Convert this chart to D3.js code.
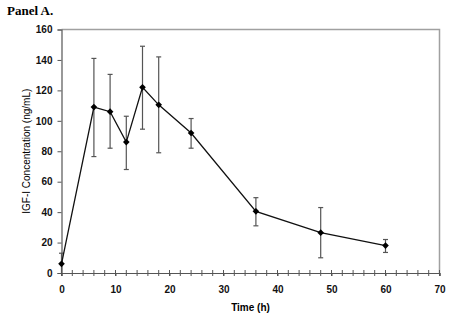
<!DOCTYPE html>
<html>
<head>
<meta charset="utf-8">
<script src="https://cdn.jsdelivr.net/npm/d3@7"></script>
<style>
  html, body { margin: 0; padding: 0; background: #fff; }
  svg { display: block; }
</style>
</head>
<body>
<svg id="chart" width="450" height="324"></svg>
<script>
// IGF-I concentration over time, mean with error bars
const timeHours = [0, 6, 9, 12, 15, 18, 24, 36, 48, 60];
const igfMean   = [6, 109, 106, 86, 122, 110.5, 92, 40.5, 26.5, 18];
const igfUpper  = [13, 141, 130.5, 103, 149, 142, 101.5, 49.5, 43, 22];
const igfLower  = [0, 76.5, 82, 68, 94.5, 79, 82, 31, 10, 13.5];
const xTicks = [0, 10, 20, 30, 40, 50, 60, 70];
const yTicks = [0, 20, 40, 60, 80, 100, 120, 140, 160];

const svg = d3.select("#chart");
const plot = { left: 61.5, right: 439.5, top: 29.5, bottom: 273 };

const x = d3.scaleLinear().domain([0, 70]).range([plot.left, plot.right]);
const y = d3.scaleLinear().domain([0, 160]).range([plot.bottom, plot.top]);

// panel heading
svg.append("text")
  .attr("x", 7).attr("y", 15)
  .attr("font-family", "'Liberation Serif', 'Times New Roman', serif")
  .attr("font-weight", "bold").attr("font-size", 13)
  .text("Panel A.");

// frame: top and right edges in grey
svg.append("path")
  .attr("d", `M${plot.left},${plot.top}H${plot.right}V${plot.bottom}`)
  .attr("fill", "none").attr("stroke", "#a0a0a0").attr("stroke-width", 1.5);

// y axis
const yAxis = svg.append("g")
  .attr("transform", `translate(${plot.left},0)`)
  .call(d3.axisLeft(y).tickValues(yTicks).tickSize(4).tickPadding(5));
yAxis.select(".domain").attr("stroke", "#555").attr("stroke-width", 1.2);
yAxis.selectAll(".tick line").attr("stroke", "#555");
yAxis.selectAll(".tick text")
  .attr("font-family", "'Liberation Sans', Arial, sans-serif")
  .attr("font-weight", "bold").attr("font-size", 10).attr("fill", "#111");

// x axis with minor ticks every 2 h crossing the axis line
const minorTicks = d3.range(0, 71, 2);
const xMinor = svg.append("g")
  .attr("transform", `translate(0,${plot.bottom})`);
xMinor.selectAll("line").data(minorTicks).join("line")
  .attr("x1", d => x(d)).attr("x2", d => x(d))
  .attr("y1", -3).attr("y2", 3)
  .attr("stroke", "#555").attr("stroke-width", 1);

const xAxis = svg.append("g")
  .attr("transform", `translate(0,${plot.bottom})`)
  .call(d3.axisBottom(x).tickValues(xTicks).tickSize(3).tickPadding(10));
xAxis.select(".domain").attr("stroke", "#555").attr("stroke-width", 1.2);
xAxis.selectAll(".tick line").attr("stroke", "#555");
xAxis.selectAll(".tick text")
  .attr("font-family", "'Liberation Sans', Arial, sans-serif")
  .attr("font-weight", "bold").attr("font-size", 10).attr("fill", "#111");

// axis titles
svg.append("text")
  .attr("x", (plot.left + plot.right) / 2).attr("y", 311)
  .attr("text-anchor", "middle")
  .attr("font-family", "'Liberation Sans', Arial, sans-serif")
  .attr("font-weight", "bold").attr("font-size", 10)
  .text("Time (h)");

svg.append("text")
  .attr("transform", `translate(30,${(plot.top + plot.bottom) / 2}) rotate(-90)`)
  .attr("text-anchor", "middle")
  .attr("font-family", "'Liberation Sans', Arial, sans-serif")
  .attr("font-size", 10)
  .text("IGF-I Concentration (ng/mL)");

const data = timeHours.map((t, i) => ({ t, m: igfMean[i], hi: igfUpper[i], lo: igfLower[i] }));

// error bars
const bars = svg.append("g").attr("stroke", "#555").attr("stroke-width", 1.2);
bars.selectAll("line.v").data(data).join("line").attr("class", "v")
  .attr("x1", d => x(d.t)).attr("x2", d => x(d.t))
  .attr("y1", d => y(d.hi)).attr("y2", d => y(d.lo));
bars.selectAll("line.hi").data(data).join("line").attr("class", "hi")
  .attr("x1", d => x(d.t) - 2.5).attr("x2", d => x(d.t) + 2.5)
  .attr("y1", d => y(d.hi)).attr("y2", d => y(d.hi));
bars.selectAll("line.lo").data(data.filter(d => d.lo > 0)).join("line").attr("class", "lo")
  .attr("x1", d => x(d.t) - 2.5).attr("x2", d => x(d.t) + 2.5)
  .attr("y1", d => y(d.lo)).attr("y2", d => y(d.lo));

// mean line
svg.append("path")
  .datum(data)
  .attr("fill", "none").attr("stroke", "#111").attr("stroke-width", 1.3)
  .attr("d", d3.line().x(d => x(d.t)).y(d => y(d.m)));

// diamond markers
svg.append("g").selectAll("path").data(data).join("path")
  .attr("transform", d => `translate(${x(d.t)},${y(d.m)})`)
  .attr("d", d3.symbol(d3.symbolDiamond2, 28))
  .attr("fill", "#000");
</script>
</body>
</html>
